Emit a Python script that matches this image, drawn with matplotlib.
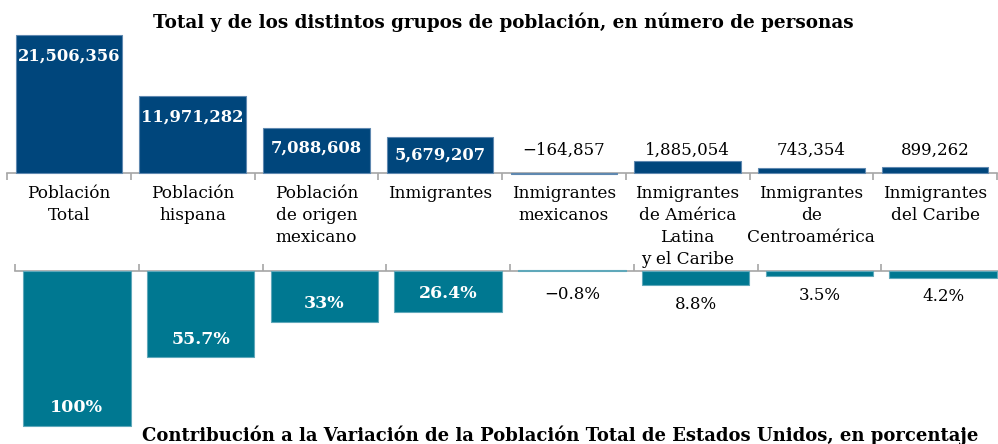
import matplotlib
matplotlib.use("Agg")
import matplotlib.pyplot as plt
import numpy as np

categories = [
    "Población\nTotal",
    "Población\nhispana",
    "Población\nde origen\nmexicano",
    "Inmigrantes",
    "Inmigrantes\nmexicanos",
    "Inmigrantes\nde América\nLatina\ny el Caribe",
    "Inmigrantes\nde\nCentroamérica",
    "Inmigrantes\ndel Caribe",
]
personas = [21506356, 11971282, 7088608, 5679207, -164857, 1885054, 743354, 899262]
contribucion = [100, 55.7, 33, 26.4, -0.8, 8.8, 3.5, 4.2]

title_top = "Total y de los distintos grupos de población, en número de personas"
title_bottom = "Contribución a la Variación de la Población Total de Estados Unidos, en porcentaje"

BLUE = "#00467c"
TEAL = "#007891"
GRAY = "#a6a6a6"
FONT = "DejaVu Serif"

W, H = 998, 444
fig = plt.figure(figsize=(W / 100, H / 100), dpi=100)


def px_axes(left, right, y_top, y_bottom):
    # pixel box (origin top-left) -> figure fraction axes
    return fig.add_axes([left / W, 1 - y_bottom / H, (right - left) / W, (y_bottom - y_top) / H])


def fmt_num(v):
    s = f"{abs(v):,}"
    return ("\u2212" + s) if v < 0 else s


def fmt_pct(v):
    s = f"{abs(v):g}%"
    return ("\u2212" + s) if v < 0 else s


def style_axis(ax, spine):
    for name, sp in ax.spines.items():
        sp.set_visible(name == spine)
    ax.spines[spine].set_color(GRAY)
    ax.spines[spine].set_linewidth(1.2)
    ax.spines[spine].set_position(("data", 0))
    ax.set_xlim(0, len(categories))
    ax.set_xticks(np.arange(len(categories) + 1))
    ax.set_xticklabels([])
    ax.set_yticks([])
    ax.tick_params(axis="x", length=5, width=1.2, color=GRAY, direction="out",
                   bottom=(spine == "bottom"), top=(spine == "top"))
    ax.patch.set_alpha(0)


x = np.arange(len(categories)) + 0.5

# ---- top panel: number of people
s_top = 138 / 21506356  # px per person
y0_top, lo_top, hi_top = 173, -1.0e6, 22.6e6
ax1 = px_axes(7, 997, y0_top - hi_top * s_top, y0_top - lo_top * s_top)
ax1.bar(x, personas, width=0.86, color=BLUE, edgecolor="#5f88b0", linewidth=0.8, zorder=3)
ax1.set_ylim(lo_top, hi_top)
style_axis(ax1, "bottom")

for xi, v in zip(x, personas):
    if v > 3e6:
        if v > 6e6:
            ax1.annotate(fmt_num(v), (xi, v), xytext=(0, -9), textcoords="offset points",
                         ha="center", va="top", color="white", fontsize=11.8,
                         fontweight="bold", family=FONT, zorder=4)
        else:
            ax1.text(xi, v / 2, fmt_num(v), ha="center", va="center", color="white",
                     fontsize=11.8, fontweight="bold", family=FONT, zorder=4)
    else:
        ax1.text(xi, 0.195, fmt_num(v), transform=ax1.get_xaxis_transform(),
                 ha="center", va="center", color="black", fontsize=12, family=FONT)

for xi, lab in zip(x, categories):
    ax1.text(xi, -0.035, lab, transform=ax1.get_xaxis_transform(), ha="center", va="top",
             fontsize=12.2, family=FONT, linespacing=1.4)

fig.text(503 / W, 1 - 22 / H, title_top, ha="center", va="center",
         fontsize=13.2, fontweight="bold", family=FONT)

# ---- bottom panel: contribution in percent (hangs downward)
s_bot = 155 / 100  # px per percentage point
y0_bot, lo_bot, hi_bot = 271, -4, 112
ax2 = px_axes(15, 15 + 990, y0_bot + lo_bot * s_bot, y0_bot + hi_bot * s_bot)
ax2.bar(x, contribucion, width=0.87, color=TEAL, edgecolor="#5fa8ba", linewidth=0.8, zorder=3)
ax2.set_ylim(hi_bot, lo_bot)
style_axis(ax2, "top")

for xi, v in zip(x, contribucion):
    if v > 20:
        ax2.annotate(fmt_pct(v), (xi, v), xytext=(0, 7), textcoords="offset points",
                     ha="center", va="bottom", color="white", fontsize=12.5,
                     fontweight="bold", family=FONT, zorder=4)
    else:
        ax2.annotate(fmt_pct(v), (xi, max(v, 2.5)), xytext=(0, -14), textcoords="offset points",
                     ha="center", va="center", color="black", fontsize=12, family=FONT)

fig.text(560 / W, 1 - 435 / H, title_bottom, ha="center", va="center",
         fontsize=13, fontweight="bold", family=FONT)

fig.savefig("out.png", dpi=100)
